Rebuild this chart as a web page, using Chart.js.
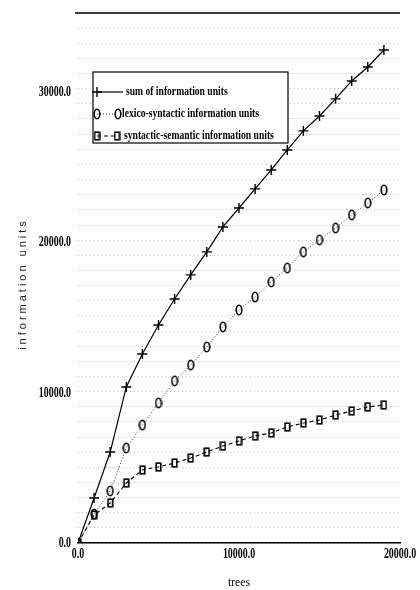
<!DOCTYPE html>
<html>
<head>
<meta charset="utf-8">
<script src="https://cdn.jsdelivr.net/npm/chart.js@4.4.1/dist/chart.umd.min.js"></script>
<style>
  html, body { margin: 0; padding: 0; background: #fff; }
  #wrap { width: 420px; height: 590px; position: relative; }
</style>
</head>
<body>
<div id="wrap"><canvas id="chart"></canvas></div>
<script>
const trees = [0, 1000, 2000, 3000, 4000, 5000, 6000, 7000, 8000, 9000,
  10000, 11000, 12000, 13000, 14000, 15000, 16000, 17000, 18000, 19000];
const sumUnits = [0, 2990, 6050, 10380, 12570, 14500, 16230, 17830, 19360, 21020,
  22280, 23550, 24810, 26140, 27410, 28400, 29540, 30730, 31660, 32790];
const lexicoUnits = [0, 1930, 3460, 6320, 7850, 9310, 10780, 11840, 13040, 14370,
  15500, 16360, 17360, 18290, 19360, 20160, 20950, 21820, 22620, 23480];
const synsemUnits = [0, 1860, 2660, 3990, 4860, 5060, 5320, 5650, 6050, 6450,
  6790, 7120, 7320, 7720, 7980, 8180, 8510, 8780, 9050, 9180];

const seriesNames = ['sum of information units', 'lexico-syntactic information units', 'syntactic-semantic information units'];
const yTickLabels = [0, 10000, 20000, 30000];
const xTickLabels = [0, 10000, 20000];
const xTitle = 'trees';
const yTitle = 'information units';

const INK = '#000';

// small canvases used as point markers (tall ovals and boxes like the scan)
function ovalMarker(w, h) {
  const c = document.createElement('canvas');
  c.width = w; c.height = h;
  const g = c.getContext('2d');
  g.strokeStyle = INK; g.lineWidth = 1.6;
  g.beginPath();
  g.ellipse(w / 2, h / 2, w / 2 - 1.2, h / 2 - 1.2, 0, 0, Math.PI * 2);
  g.stroke();
  return c;
}
function boxMarker(w, h) {
  const c = document.createElement('canvas');
  c.width = w; c.height = h;
  const g = c.getContext('2d');
  g.strokeStyle = INK; g.lineWidth = 1.6;
  g.strokeRect(1.2, 1.2, w - 2.4, h - 2.4);
  return c;
}

function toPoints(ys) {
  return trees.map((t, i) => ({ x: t, y: ys[i] }));
}

// draws text squeezed horizontally (the scan uses a condensed bold face)
function condensed(ctx, text, x, y, sx, align) {
  ctx.save();
  ctx.translate(x, y);
  ctx.scale(sx, 1);
  ctx.textAlign = align;
  ctx.fillText(text, 0, 0);
  ctx.restore();
}

const paperPlugin = {
  id: 'paper',
  afterDraw(chart) {
    const { ctx, chartArea: a, scales: { x, y } } = chart;
    ctx.save();

    // top frame
    ctx.strokeStyle = INK;
    ctx.lineWidth = 1.5;
    ctx.beginPath();
    ctx.moveTo(a.left - 3, a.top);
    ctx.lineTo(a.right, a.top);
    ctx.stroke();

    // tick labels
    ctx.fillStyle = INK;
    ctx.font = 'bold 15px "Liberation Serif"';
    ctx.textBaseline = 'middle';
    yTickLabels.forEach(v => condensed(ctx, v.toFixed(1), 71, y.getPixelForValue(v), 0.66, 'right'));
    xTickLabels.forEach(v => condensed(ctx, v.toFixed(1), x.getPixelForValue(v), 554, 0.66, 'center'));

    // axis titles
    ctx.font = '13px "Liberation Serif"';
    condensed(ctx, xTitle, (a.left + a.right) / 2, 583, 0.9, 'center');

    ctx.save();
    ctx.translate(23, 284);
    ctx.rotate(-Math.PI / 2);
    ctx.font = '11px "Liberation Sans"';
    ctx.letterSpacing = '3px';
    ctx.textAlign = 'center';
    ctx.fillStyle = '#222';
    ctx.fillText(yTitle, 0, 0);
    ctx.restore();

    // legend box
    const box = { left: 93, top: 72, right: 288, bottom: 143 };
    ctx.fillStyle = '#fff';
    ctx.fillRect(box.left, box.top, box.right - box.left, box.bottom - box.top);
    ctx.strokeStyle = INK;
    ctx.lineWidth = 1.2;
    ctx.setLineDash([]);
    ctx.strokeRect(box.left, box.top, box.right - box.left, box.bottom - box.top);

    const rows = [
      { y: 92, x1: 97, x2: 123, endMarker: false, textX: 126 },
      { y: 114, x1: 97, x2: 118, endMarker: true, textX: 122 },
      { y: 136, x1: 97, x2: 117, endMarker: true, textX: 124 }
    ];
    chart.data.datasets.forEach((ds, i) => {
      const r = rows[i];
      ctx.strokeStyle = ds.borderColor;
      ctx.lineWidth = ds.borderWidth;
      ctx.setLineDash(ds.borderDash || []);
      ctx.beginPath();
      ctx.moveTo(r.x1, r.y);
      ctx.lineTo(r.x2, r.y);
      ctx.stroke();
      ctx.setLineDash([]);
      const pt = { pointStyle: ds.pointStyle, radius: ds.pointRadius, rotation: 0, borderWidth: ds.pointBorderWidth };
      ctx.strokeStyle = INK;
      ctx.lineWidth = ds.pointBorderWidth;
      Chart.helpers.drawPoint(ctx, pt, Math.round(r.x1), Math.round(r.y));
      if (r.endMarker) Chart.helpers.drawPoint(ctx, pt, r.x2, r.y);
      ctx.fillStyle = INK;
      ctx.font = 'bold 12px "Liberation Serif"';
      ctx.textBaseline = 'middle';
      condensed(ctx, ds.label, r.textX, r.y, 0.8, 'left');
    });

    ctx.restore();
  }
};

new Chart(document.getElementById('chart'), {
  type: 'line',
  data: {
    datasets: [
      {
        label: seriesNames[0],
        data: toPoints(sumUnits),
        borderColor: INK,
        borderWidth: 1.2,
        pointStyle: 'cross',
        pointRadius: 5,
        pointBorderWidth: 1.4,
        pointBorderColor: INK,
        pointBackgroundColor: 'transparent'
      },
      {
        label: seriesNames[1],
        data: toPoints(lexicoUnits),
        borderColor: '#333',
        borderWidth: 1,
        borderDash: [1, 2],
        pointStyle: ovalMarker(8, 12),
        pointRadius: 5,
        pointBorderWidth: 1.2,
        pointBorderColor: INK,
        pointBackgroundColor: 'transparent'
      },
      {
        label: seriesNames[2],
        data: toPoints(synsemUnits),
        borderColor: INK,
        borderWidth: 1.1,
        borderDash: [4, 3],
        pointStyle: boxMarker(7, 10),
        pointRadius: 5,
        pointBorderWidth: 1.2,
        pointBorderColor: INK,
        pointBackgroundColor: 'transparent'
      }
    ]
  },
  options: {
    responsive: true,
    maintainAspectRatio: false,
    animation: false,
    layout: { padding: { top: 13, right: 20, left: 0, bottom: 0 } },
    elements: { line: { tension: 0 } },
    scales: {
      x: {
        type: 'linear',
        min: 0,
        max: 20000,
        afterFit: s => { s.height = 47; },
        ticks: { display: false },
        grid: { display: false },
        border: { display: true, color: INK, width: 1.5 }
      },
      y: {
        type: 'linear',
        min: 0,
        max: 35250,
        afterFit: s => { s.width = 78; },
        ticks: { display: false, stepSize: 1000 },
        grid: { color: 'rgba(0,0,0,0.28)', lineWidth: 1, drawTicks: false },
        border: { display: false, dash: [1, 3] }
      }
    },
    plugins: {
      legend: { display: false },
      tooltip: { enabled: false }
    }
  },
  plugins: [paperPlugin]
});
</script>
</body>
</html>
